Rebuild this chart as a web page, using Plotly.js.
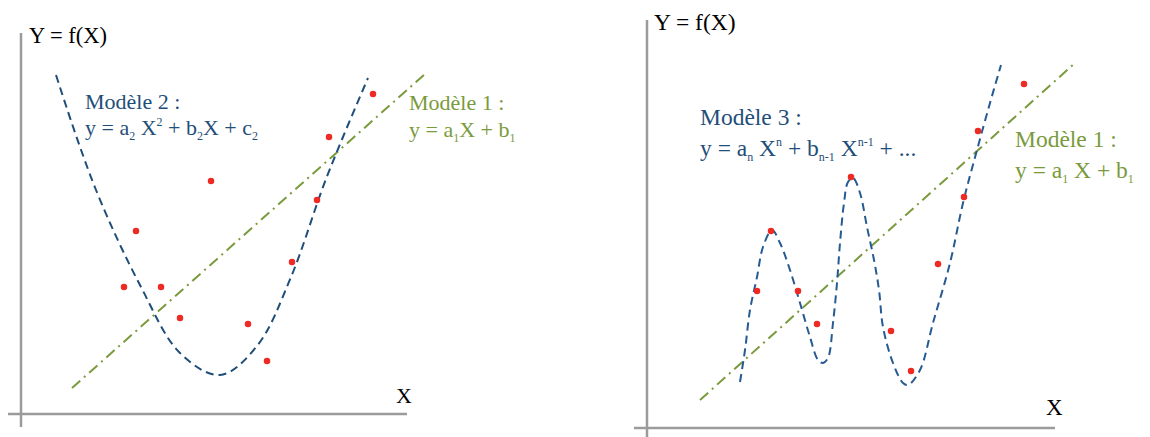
<!DOCTYPE html>
<html>
<head>
<meta charset="utf-8">
<script src="https://cdn.plot.ly/plotly-3.0.1.min.js"></script>
<style>
  html, body { margin: 0; padding: 0; background: #fff; }
  #chart { width: 1150px; height: 437px; }
</style>
</head>
<body>
<div id="chart"></div>
<script>
// left panel : observations, model 1 (linear) and model 2 (quadratic)
const leftDotsX = [10.3, 11.5, 14.0, 15.9, 19.0, 22.7, 24.6, 27.1, 29.6, 30.8, 35.2];
const leftDotsY = [12.7, 18.3, 12.7, 9.6, 23.3, 9.0, 5.3, 15.2, 21.4, 27.7, 32.0];
const leftLineX = [5.1, 40.4];
const leftLineY = [2.6, 34.0];
const leftCurveX = [3.5, 7.5, 12.0, 15.9, 19.9, 23.6, 27.0, 30.5, 34.7];
const leftCurveY = [33.9, 22.4, 12.7, 6.1, 3.9, 6.8, 13.7, 23.5, 33.6];

// right panel : observations, model 1 (linear) and model 3 (polynomial)
const rightDotsX = [11.0, 12.4, 15.1, 17.0, 20.4, 24.4, 26.4, 29.1, 31.7, 33.1, 37.7];
const rightDotsY = [13.7, 19.7, 13.7, 10.4, 25.1, 9.7, 5.7, 16.4, 23.1, 29.7, 34.4];
const rightLineX = [5.3, 42.8];
const rightLineY = [2.8, 36.5];
const rightCurveX = [9.3, 9.8, 10.3, 11.0, 11.6, 12.5, 13.3, 14.3, 15.3, 16.3, 17.1, 17.6, 18.1, 18.6, 19.0, 19.3, 19.7, 20.1, 20.6, 21.3, 22.0, 22.7, 23.2, 23.6, 24.6, 25.6, 26.1, 27.3, 28.6, 30.3, 31.6, 33.0, 34.3, 35.4];
const rightCurveY = [4.6, 7.8, 11.8, 15.1, 18.1, 19.8, 18.5, 15.8, 12.5, 9.1, 6.8, 6.5, 7.0, 10.5, 14.5, 18.5, 22.5, 24.6, 25.0, 23.5, 20.1, 16.8, 13.8, 10.1, 6.5, 4.5, 4.3, 5.8, 10.5, 16.5, 22.5, 27.8, 32.5, 36.3];

const BLUE = "#1f4e79";
const BLUE2 = "#255a92";
const GREEN = "#7a9a3c";
const RED = "#ee2a24";
const GRAY = "#9b9b9b";
const SERIF = "Liberation Serif, Times New Roman, serif";

function dots(x, y, xa, ya) {
    return { x: x, y: y, xaxis: xa, yaxis: ya, mode: "markers", type: "scatter",
        marker: { color: RED, size: 6.5 }, hoverinfo: "skip" };
}
function straight(x, y, xa, ya) {
    return { x: x, y: y, xaxis: xa, yaxis: ya, mode: "lines", type: "scatter",
        line: { color: GREEN, width: 2, dash: "11px,5px,2px,5px" }, hoverinfo: "skip" };
}
function curve(x, y, xa, ya, col) {
    return { x: x, y: y, xaxis: xa, yaxis: ya, mode: "lines", type: "scatter",
        line: { color: col, width: 2, dash: "8px,5px", shape: "spline", smoothing: 1 }, hoverinfo: "skip" };
}

let traces = [
    straight(leftLineX, leftLineY, "x", "y"),
    curve(leftCurveX, leftCurveY, "x", "y", BLUE),
    dots(leftDotsX, leftDotsY, "x", "y"),
    straight(rightLineX, rightLineY, "x2", "y2"),
    curve(rightCurveX, rightCurveY, "x2", "y2", BLUE2),
    dots(rightDotsX, rightDotsY, "x2", "y2")
];

let hidden = { showgrid: false, zeroline: false, showticklabels: false, ticks: "", showline: false, fixedrange: true };

function axisLine(xa, ya, x0, y0, x1, y1) {
    return { type: "line", xref: xa, yref: ya, x0: x0, y0: y0, x1: x1, y1: y1,
        layer: "below", line: { color: GRAY, width: 2.5 } };
}

function label(xa, ya, x, y, text, color, size) {
    return { xref: xa, yref: ya, x: x, y: y, text: text, showarrow: false,
        xanchor: "left", yanchor: "middle", font: { family: SERIF, size: size, color: color } };
}

// small indices, like the original drawing
const sub = s => '<sub><span style="font-size:12px">' + s + '</span></sub>';
const sup = s => '<sup><span style="font-size:12px">' + s + '</span></sup>';

let layout = {
    width: 1150, height: 437,
    margin: { l: 0, r: 0, t: 0, b: 0 },
    paper_bgcolor: "#fff", plot_bgcolor: "rgba(0,0,0,0)",
    showlegend: false, hovermode: false,
    xaxis: Object.assign({ domain: [0, 440 / 1150], range: [-2.1, 41.9] }, hidden),
    yaxis: Object.assign({ domain: [0, 1], range: [-2.3, 41.4] }, hidden),
    xaxis2: Object.assign({ domain: [600 / 1150, 1], range: [-4.7, 50.3], anchor: "y2" }, hidden),
    yaxis2: Object.assign({ domain: [0, 1], range: [-0.9, 42.8], anchor: "x2" }, hidden),
    shapes: [
        axisLine("x", "y", -1.3, 0, 38.6, 0),
        axisLine("x", "y", 0, -1.3, 0, 38.1),
        axisLine("x2", "y2", -1.3, 0, 40.8, 0),
        axisLine("x2", "y2", 0, -1.5, 0, 40.8)
    ],
    annotations: [
        label("x", "y", 0.6, 37.9, "Y = f(X)", "#000", 22.5),
        label("x", "y", 37.3, 1.9, "X", "#000", 22),
        label("x", "y", 6.2, 31.3, "Modèle 2 :", BLUE, 22),
        label("x", "y", 6.2, 28.5, "y = a" + sub("2") + " X" + sup("2") + " + b" + sub("2") + "X + c" + sub("2"), BLUE, 22),
        label("x", "y", 38.6, 31.2, "Modèle 1 :", GREEN, 22),
        label("x", "y", 38.6, 28.3, "y = a" + sub("1") + "X + b" + sub("1"), GREEN, 22),
        label("x2", "y2", 0.5, 40.6, "Y = f(X)", "#000", 23.5),
        label("x2", "y2", 39.7, 2.1, "X", "#000", 23),
        label("x2", "y2", 5.1, 31.1, "Modèle 3 :", BLUE, 23.5),
        label("x2", "y2", 5.1, 27.9, "y = a" + sub("n") + " X" + sup("n") + " + b" + sub("n-1") + " X" + sup("n-1") + " + ...", BLUE, 23.5),
        label("x2", "y2", 36.6, 28.9, "Modèle 1 :", GREEN, 23.5),
        label("x2", "y2", 36.6, 25.7, "y = a" + sub("1") + " X + b" + sub("1"), GREEN, 23.5)
    ]
};

Plotly.newPlot("chart", traces, layout, { displayModeBar: false, staticPlot: true });
</script>
</body>
</html>
